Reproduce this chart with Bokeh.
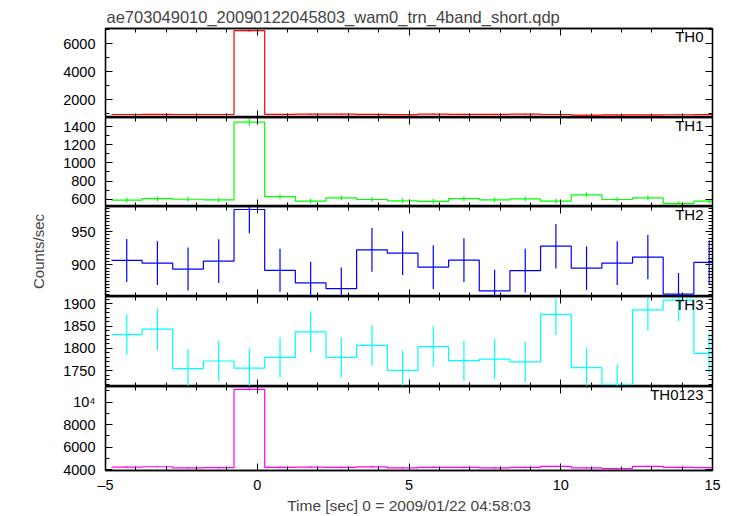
from bokeh.plotting import figure
from bokeh.layouts import column
from bokeh.models import (LinearAxis, Range1d, Label, SingleIntervalTicker,
                          CustomJSTickFormatter)
from bokeh.embed import file_html
from bokeh.resources import INLINE

TITLE = "ae703049010_20090122045803_wam0_trn_4band_short.qdp"
X_LABEL = "Time [sec] 0 = 2009/01/22 04:58:03"
Y_LABEL = "Counts/sec"

# bin centres (s) and half bin width
t_center = [-4.30, -3.29, -2.28, -1.27, -0.26, 0.75, 1.76, 2.77, 3.78, 4.79,
            5.80, 6.81, 7.82, 8.83, 9.84, 10.85, 11.86, 12.87, 13.88, 14.89]
bin_half = 0.505

th0 = [930, 935, 930, 930, 6950, 935, 960, 960, 945, 925,
       960, 945, 945, 950, 930, 880, 900, 905, 910, 925]
th0_err = [33, 33, 33, 33, 90, 33, 33, 33, 33, 33,
           33, 33, 33, 33, 33, 32, 32, 32, 32, 33]

th1 = [590, 607, 600, 593, 1449, 628, 580, 614, 597, 583,
       576, 607, 593, 604, 580, 649, 597, 614, 552, 580]
th1_err = [26, 26, 26, 26, 40, 27, 26, 26, 26, 26,
           26, 26, 26, 26, 26, 27, 26, 26, 25, 26]

th2 = [906.5, 902.5, 893.5, 905.5, 983.5, 891.5, 872.5, 864, 922.5, 917.5,
       896.5, 907, 860.5, 891, 928, 895, 902.5, 911.5, 855.5, 903.5]
th2_err = [32.5, 33, 32.5, 33, 36, 32.5, 32, 32, 33, 33,
           33, 33, 32, 33, 33.5, 33, 33, 33.5, 32, 33]

th3 = [1831, 1843, 1755, 1772, 1756, 1780, 1837, 1780, 1807, 1751,
       1804, 1773, 1776, 1770, 1876, 1757, 1720, 1886, 1908, 1789]
th3_err = [45, 46, 44, 45, 44, 45, 46, 45, 45, 44,
           45, 45, 45, 45, 46, 44, 44, 46, 47, 45]

th0123 = [4225, 4255, 4150, 4170, 11140, 4200, 4220, 4195, 4235, 4150,
          4205, 4200, 4150, 4190, 4280, 4150, 4090, 4290, 4200, 4170]
th0123_err = [70, 70, 69, 69, 112, 70, 70, 70, 70, 69,
              70, 70, 69, 70, 70, 69, 69, 70, 70, 69]

panel_names = ["TH0", "TH1", "TH2", "TH3", "TH0123"]
panel_values = [th0, th1, th2, th3, th0123]
panel_errors = [th0_err, th1_err, th2_err, th3_err, th0123_err]
panel_colors = ["#ff0000", "#00ff00", "#0000ff", "#00ffff", "#ff00ff"]
y_lo = [714, 520, 852, 1715, 3920]
y_hi = [7100, 1500, 988, 1916, 11390]
y_major = [2000, 200, 50, 50, 2000]
y_minor = [2, 2, 10, 5, 2]

FONT = "Liberation Sans"
TICK_FS = "14.5px"

x_range = Range1d(-5, 15)

frame_h = [89, 89, 90, 90, 90]
top_b = [28, 0, 0, 0, 0]
bot_b = [0, 0, 0, 0, 40]

x_fmt = CustomJSTickFormatter(code="return tick < 0 ? '\\u2013' + Math.abs(tick) : String(tick);")
y5_fmt = CustomJSTickFormatter(code="return tick == 10000 ? '10\\u2074' : String(tick);")


def style_axis(ax, labels):
    ax.major_tick_in = 7
    ax.major_tick_out = 0
    ax.minor_tick_in = 4
    ax.minor_tick_out = 0
    ax.axis_line_color = "black"
    ax.axis_line_width = 1.3
    ax.major_tick_line_color = "black"
    ax.minor_tick_line_color = "black"
    ax.major_label_text_font = FONT
    ax.major_label_text_color = "black"
    if labels:
        ax.major_label_text_font_size = TICK_FS
    else:
        ax.formatter = CustomJSTickFormatter(code="return '';")
        ax.major_label_text_font_size = "0px"
        ax.major_label_standoff = 0
    return ax


figs = []
for i in range(5):
    last = (i == 4)
    p = figure(width=733, height=frame_h[i] + top_b[i] + bot_b[i],
               x_range=x_range, y_range=Range1d(y_lo[i], y_hi[i]),
               x_axis_location=None, y_axis_location=None,
               output_backend="svg", toolbar_location=None,
               title_location="above" if i == 0 else None,
               min_border_left=105, min_border_right=21,
               min_border_top=top_b[i], min_border_bottom=bot_b[i],
               outline_line_color="black", outline_line_width=1.3)
    if i == 0:
        p.title.text = TITLE
        p.title.align = "left"
        p.title.text_font = FONT
        p.title.text_font_size = "16.5px"
        p.title.text_font_style = "normal"
        p.title.standoff = 5
        p.title.offset = 1

    # left axis with labels
    ly = LinearAxis(ticker=SingleIntervalTicker(interval=y_major[i], num_minor_ticks=y_minor[i]))
    style_axis(ly, True)
    ly.major_label_standoff = 10
    if last:
        ly.formatter = y5_fmt
    if i == 2:
        ly.axis_label = Y_LABEL
        ly.axis_label_text_font = FONT
        ly.axis_label_text_font_size = "15px"
        ly.axis_label_text_font_style = "normal"
        ly.axis_label_standoff = 21
    p.add_layout(ly, "left")

    ry = LinearAxis(ticker=SingleIntervalTicker(interval=y_major[i], num_minor_ticks=y_minor[i]))
    style_axis(ry, False)
    p.add_layout(ry, "right")

    tx = LinearAxis(ticker=SingleIntervalTicker(interval=5, num_minor_ticks=5))
    style_axis(tx, False)
    p.add_layout(tx, "above")

    bx = LinearAxis(ticker=SingleIntervalTicker(interval=5, num_minor_ticks=5))
    style_axis(bx, last)
    if last:
        bx.formatter = x_fmt
        bx.major_label_standoff = 6
        bx.axis_label = X_LABEL
        bx.axis_label_text_font = FONT
        bx.axis_label_text_font_size = "15.5px"
        bx.axis_label_text_font_style = "normal"
        bx.axis_label_standoff = 1
    p.add_layout(bx, "below")

    vals = panel_values[i]
    errs = panel_errors[i]
    edges = [c - bin_half for c in t_center] + [t_center[-1] + bin_half]
    ystep = list(vals) + [vals[-1]]
    col = panel_colors[i]
    p.step(edges, ystep, mode="after", line_color=col, line_width=1.2)
    p.segment(x0=t_center, y0=[v - e for v, e in zip(vals, errs)],
              x1=t_center, y1=[v + e for v, e in zip(vals, errs)],
              line_color=col, line_width=1.2)

    p.add_layout(Label(x=15, y=y_hi[i], x_offset=-9, y_offset=1,
                       text=panel_names[i], text_align="right",
                       text_baseline="top", text_font=FONT,
                       text_font_size="15px", text_color="black"))
    p.grid.visible = False
    figs.append(p)

layout = column(*figs, spacing=0)
open("out.html", "w").write(file_html(layout, INLINE))
